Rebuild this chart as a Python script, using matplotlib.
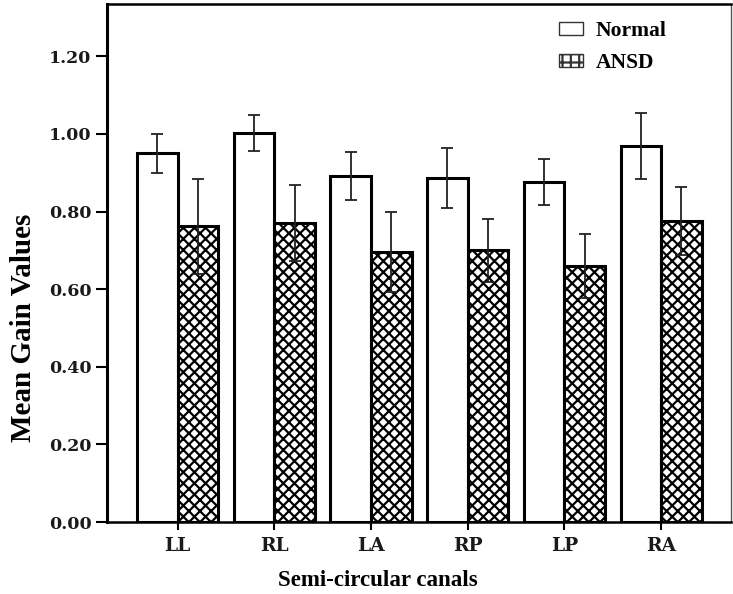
"""Mean gain values of the semi-circular canals, Normal vs ANSD."""

import matplotlib

matplotlib.use("Agg")
import matplotlib.pyplot as plt
import numpy as np
from matplotlib.patches import Patch

canals = ["LL", "RL", "LA", "RP", "LP", "RA"]
normal_mean = [0.950, 1.002, 0.891, 0.887, 0.876, 0.968]
normal_err = [0.050, 0.047, 0.062, 0.077, 0.060, 0.085]
ansd_mean = [0.762, 0.770, 0.696, 0.700, 0.660, 0.775]
ansd_err = [0.123, 0.098, 0.102, 0.081, 0.082, 0.088]
y_ticks = [0.0, 0.2, 0.4, 0.6, 0.8, 1.0, 1.2]

plt.rcParams["hatch.linewidth"] = 1.6

fig = plt.figure(figsize=(7.33, 5.94), dpi=100)
ax = fig.add_axes([0.146, 0.1212, 0.851, 0.8721])

x = np.arange(len(canals))
width = 0.42

ax.bar(x - width / 2, normal_mean, width, color="white",
       edgecolor="black", linewidth=2.2, zorder=2)
ax.bar(x + width / 2, ansd_mean, width, color="white",
       edgecolor="black", linewidth=2.2, hatch="xxx", zorder=2)

ax.errorbar(x - width / 2, normal_mean, yerr=normal_err, fmt="none",
            ecolor="#222222", elinewidth=1.3, capsize=4.5, capthick=1.3,
            zorder=3)
ax.errorbar(x + width / 2, ansd_mean, yerr=ansd_err, fmt="none",
            ecolor="#222222", elinewidth=1.3, capsize=4.5, capthick=1.3,
            zorder=3)

ax.set_xlim(-0.73, 5.72)
ax.set_ylim(0, 1.335)
ax.set_yticks(y_ticks)
ax.set_yticklabels([f"{v:.2f}" for v in y_ticks])
ax.set_xticks(x)
ax.set_xticklabels(canals)

for lab in ax.get_yticklabels():
    lab.set_fontfamily("DejaVu Serif")
    lab.set_fontweight("bold")
    lab.set_fontsize(12.5)
    lab.set_color("#1a1a1a")
for lab in ax.get_xticklabels():
    lab.set_fontfamily("DejaVu Serif")
    lab.set_fontweight("bold")
    lab.set_fontsize(13.5)
    lab.set_color("#1a1a1a")

ax.tick_params(axis="y", length=8, width=1.5, pad=3)
ax.tick_params(axis="x", length=6, width=1.5, pad=5)

ax.spines["left"].set_linewidth(2.2)
ax.spines["bottom"].set_linewidth(1.8)
ax.spines["top"].set_linewidth(1.8)
ax.spines["right"].set_linewidth(1.0)
ax.spines["right"].set_color("#555555")

label_font = {"family": "Liberation Serif", "weight": "bold"}
ax.set_ylabel("Mean Gain Values", fontdict=label_font, fontsize=21)
ax.yaxis.set_label_coords(-0.112, 0.375)
ax.set_xlabel("Semi-circular canals", fontdict=label_font, fontsize=16.5)
ax.xaxis.set_label_coords(0.434, -0.092)

handles = [
    Patch(facecolor="white", edgecolor="#333333", linewidth=1.0),
    Patch(facecolor="white", edgecolor="#333333", linewidth=1.0, hatch="++"),
]
ax.legend(handles, ["Normal", "ANSD"], loc="upper left",
          bbox_to_anchor=(0.708, 0.988), frameon=False, borderpad=0,
          handlelength=1.1, handleheight=0.55, handletextpad=0.6,
          labelspacing=0.55,
          prop={"family": "Liberation Serif", "weight": "bold", "size": 15.5})

fig.savefig("out.png", dpi=100)
plt.close(fig)
